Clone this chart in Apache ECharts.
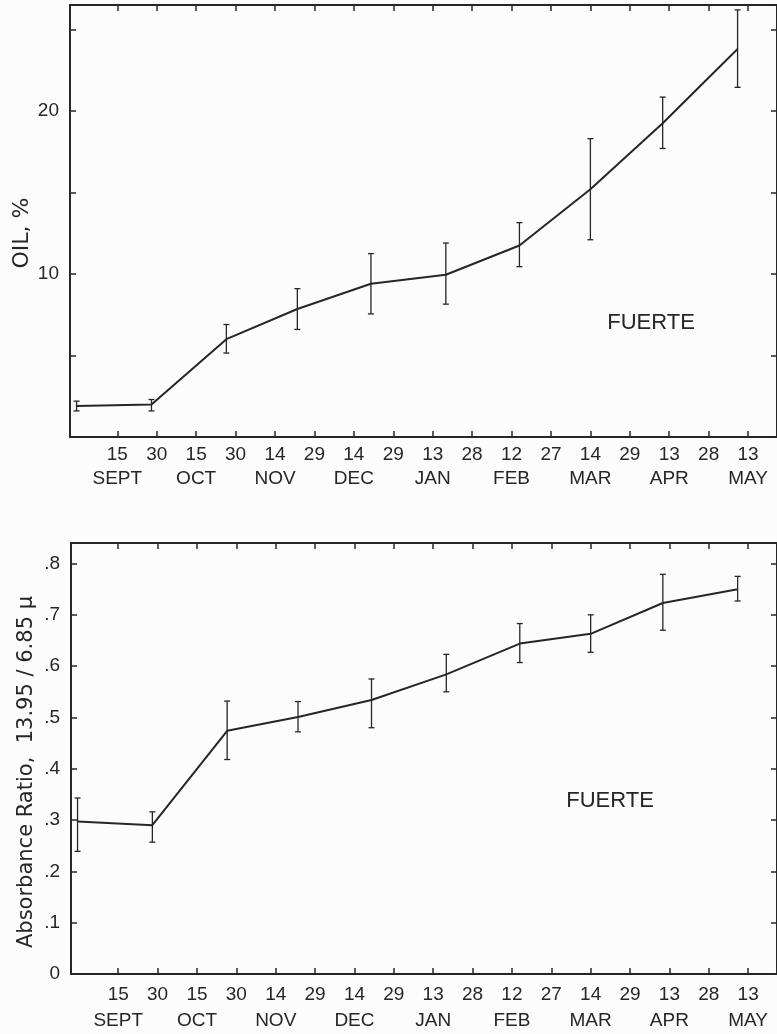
<!DOCTYPE html>
<html>
<head>
<meta charset="utf-8">
<script src="https://cdn.jsdelivr.net/npm/echarts@6/dist/echarts.min.js"></script>
<style>
  html, body { margin: 0; padding: 0; background: #fdfcfd; }
  #chart { width: 777px; height: 1034px; }
</style>
</head>
<body>
<div id="chart"></div>
<script>
// days counted from 15 Sept
const tickOffsets = [0, 15, 30, 45, 60, 75, 90, 105, 120, 135, 150, 165, 180, 195, 210, 225, 240];
const tickDays = ["15", "30", "15", "30", "14", "29", "14", "29", "13", "28", "12", "27", "14", "29", "13", "28", "13"];
const tickMonths = ["SEPT", "", "OCT", "", "NOV", "", "DEC", "", "JAN", "", "FEB", "", "MAR", "", "APR", "", "MAY"];

const sampleDays = [-15.5, 13, 41.5, 68.5, 96.5, 125, 153, 180, 207.5, 236];

const oilMean = [1.9, 2.0, 6.0, 7.85, 9.4, 9.95, 11.75, 15.2, 19.25, 23.8];
const oilLow = [1.6, 1.6, 5.15, 6.6, 7.55, 8.15, 10.45, 12.1, 17.7, 21.45];
const oilHigh = [2.2, 2.3, 6.9, 9.1, 11.25, 11.9, 13.15, 18.3, 20.85, 26.2];

const ratioMean = [0.297, 0.29, 0.474, 0.501, 0.534, 0.584, 0.644, 0.663, 0.723, 0.75];
const ratioLow = [0.239, 0.257, 0.418, 0.472, 0.48, 0.55, 0.607, 0.627, 0.67, 0.727];
const ratioHigh = [0.343, 0.316, 0.532, 0.531, 0.575, 0.623, 0.683, 0.7, 0.779, 0.775];

const INK = "#262626";
const LABEL_FONT = "'Liberation Sans', Arial, sans-serif";
const NAME_FONT = "'DejaVu Sans', sans-serif";

function zip3(xs, a, b) {
  return xs.map((x, i) => [x, a[i], b[i]]);
}

function renderErrorBar(params, api) {
  const x = api.value(0);
  const low = api.coord([x, api.value(1)]);
  const high = api.coord([x, api.value(2)]);
  const cap = 3;
  const style = { stroke: INK, lineWidth: 1.3 };
  return {
    type: "group",
    children: [
      { type: "line", shape: { x1: low[0], y1: low[1], x2: high[0], y2: high[1] }, style },
      { type: "line", shape: { x1: low[0] - cap, y1: low[1], x2: low[0] + cap, y2: low[1] }, style },
      { type: "line", shape: { x1: high[0] - cap, y1: high[1], x2: high[0] + cap, y2: high[1] }, style }
    ]
  };
}

function dateLabel(value) {
  const i = tickOffsets.indexOf(value);
  if (i < 0) return "";
  return tickMonths[i] ? tickDays[i] + "\n" + tickMonths[i] : tickDays[i];
}

function bottomXAxis(gridIndex, margin, lineHeight) {
  return {
    type: "value",
    gridIndex,
    position: "bottom",
    min: -18,
    max: 251,
    splitLine: { show: false },
    axisLine: { show: true, onZero: false, lineStyle: { color: INK, width: 2 } },
    axisTick: { show: true, inside: true, length: 6, customValues: tickOffsets, lineStyle: { color: INK, width: 1.5 } },
    axisLabel: {
      show: true,
      customValues: tickOffsets,
      formatter: dateLabel,
      margin,
      color: INK,
      fontFamily: LABEL_FONT,
      fontSize: 19,
      lineHeight
    }
  };
}

function topXAxis(gridIndex) {
  return {
    type: "value",
    gridIndex,
    position: "top",
    min: -18,
    max: 251,
    splitLine: { show: false },
    axisLine: { show: true, onZero: false, lineStyle: { color: INK, width: 2 } },
    axisTick: { show: true, inside: true, length: 6, customValues: tickOffsets, lineStyle: { color: INK, width: 1.5 } },
    axisLabel: { show: false }
  };
}

function valueAxis(gridIndex, position, min, max, interval, formatter) {
  return {
    type: "value",
    gridIndex,
    position,
    min,
    max,
    interval,
    splitLine: { show: false },
    axisLine: { show: true, onZero: false, lineStyle: { color: INK, width: 2 } },
    axisTick: { show: true, inside: true, length: 6, lineStyle: { color: INK, width: 1.5 } },
    axisLabel: {
      show: Boolean(formatter),
      formatter,
      margin: 11,
      color: INK,
      fontFamily: LABEL_FONT,
      fontSize: 19
    }
  };
}

function oilLabel(v) {
  return v === 10 || v === 20 ? String(v) : "";
}

function ratioLabel(v) {
  const r = Math.round(v * 10);
  if (Math.abs(v * 10 - r) > 1e-6 || r > 8) return "";
  return r === 0 ? "0" : "." + r;
}

const chart = echarts.init(document.getElementById("chart"), null, { renderer: "canvas" });

chart.setOption({
  backgroundColor: "#fdfcfd",
  animation: false,
  grid: [
    { left: 70, top: 5, right: 0, height: 432 },
    { left: 71, top: 543, right: -3, height: 434 }
  ],
  xAxis: [
    bottomXAxis(0, 6, 24),
    topXAxis(0),
    bottomXAxis(1, 8, 26),
    topXAxis(1)
  ],
  yAxis: [
    valueAxis(0, "left", 0, 26.5, 5, oilLabel),
    valueAxis(0, "right", 0, 26.5, 5, null),
    valueAxis(1, "left", 0, 0.84, 0.1, ratioLabel),
    valueAxis(1, "right", 0, 0.84, 0.1, null)
  ],
  series: [
    {
      type: "line",
      xAxisIndex: 0,
      yAxisIndex: 0,
      data: sampleDays.map((d, i) => [d, oilMean[i]]),
      symbol: "none",
      lineStyle: { color: INK, width: 2 }
    },
    {
      type: "custom",
      xAxisIndex: 0,
      yAxisIndex: 0,
      data: zip3(sampleDays, oilLow, oilHigh),
      renderItem: renderErrorBar
    },
    {
      type: "line",
      xAxisIndex: 2,
      yAxisIndex: 2,
      data: sampleDays.map((d, i) => [d, ratioMean[i]]),
      symbol: "none",
      lineStyle: { color: INK, width: 2 }
    },
    {
      type: "custom",
      xAxisIndex: 2,
      yAxisIndex: 2,
      data: zip3(sampleDays, ratioLow, ratioHigh),
      renderItem: renderErrorBar
    }
  ],
  graphic: [
    {
      type: "text",
      x: 22,
      y: 233,
      rotation: Math.PI / 2,
      style: { text: "OIL, %", fill: INK, font: "22px " + NAME_FONT, align: "center", verticalAlign: "middle" }
    },
    {
      type: "text",
      x: 27,
      y: 772,
      rotation: Math.PI / 2,
      style: { text: "Absorbance Ratio,  13.95 / 6.85 \u03bc", fill: INK, font: "21px " + NAME_FONT, align: "center", verticalAlign: "middle" }
    },
    {
      type: "text",
      x: 651,
      y: 323,
      style: { text: "FUERTE", fill: INK, font: "22px " + LABEL_FONT, align: "center", verticalAlign: "middle" }
    },
    {
      type: "text",
      x: 610,
      y: 801,
      style: { text: "FUERTE", fill: INK, font: "22px " + LABEL_FONT, align: "center", verticalAlign: "middle" }
    }
  ]
});
</script>
</body>
</html>
